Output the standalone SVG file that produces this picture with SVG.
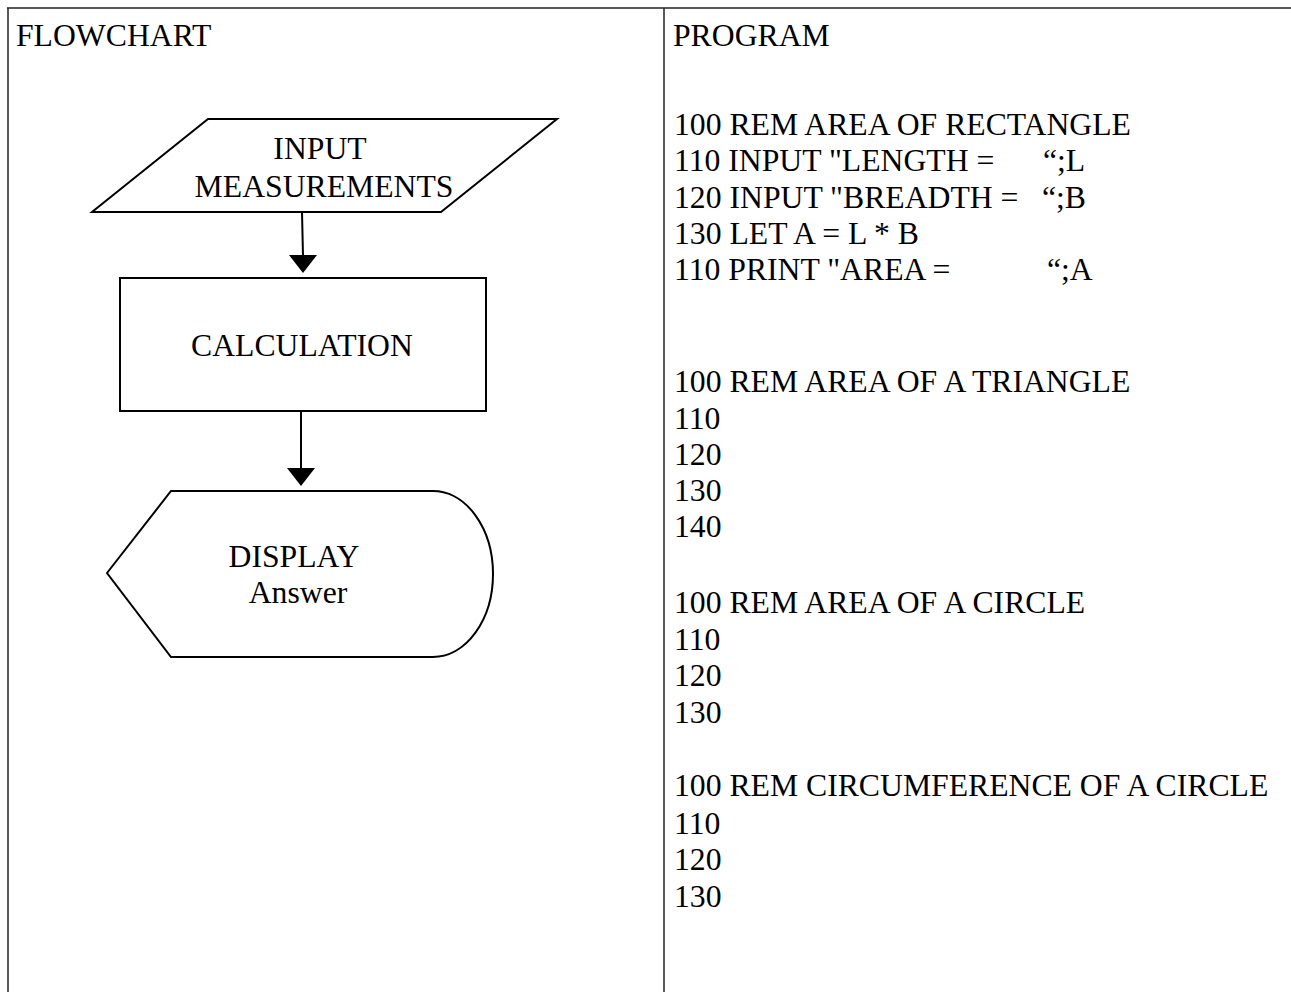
<svg xmlns="http://www.w3.org/2000/svg" width="1291" height="992" viewBox="0 0 1291 992">
<defs>
<style>
text{font-family:"Liberation Serif","Times New Roman",serif;font-size:31.7px;fill:#000;white-space:pre}
.c{text-anchor:middle}
.shape{fill:#fff;stroke:#000;stroke-width:2}
.grid{stroke:#222;stroke-width:1.5;fill:none}
.conn{stroke:#000;stroke-width:2;fill:none}
.head{fill:#000}
</style>
</defs>
<rect width="1291" height="992" fill="#fff"/>
<g id="table">
<line class="grid" x1="7" y1="8" x2="1291" y2="8"/>
<line class="grid" x1="8" y1="8" x2="8" y2="992"/>
<line class="grid" x1="664" y1="8" x2="664" y2="992"/>
<text x="16" y="46">FLOWCHART</text>
<text x="673" y="46">PROGRAM</text>
</g>
<g id="input">
<polygon class="shape" points="208,119 557,119 441,212 92,212"/>
<text class="c" x="320" y="159">INPUT</text>
<text class="c" x="324" y="197">MEASUREMENTS</text>
</g>
<g id="calc">
<rect class="shape" x="120" y="278" width="366" height="133"/>
<text class="c" x="302" y="356">CALCULATION</text>
</g>
<g id="display">
<path class="shape" d="M107,573 L171,491 L433,491 A60,83 0 0 1 433,657 L171,657 Z"/>
<text class="c" x="294" y="567">DISPLAY</text>
<text class="c" x="298" y="603">Answer</text>
</g>
<g id="connectors">
<line class="conn" x1="302" y1="212" x2="303" y2="256"/>
<path class="head" d="M289,255 L317,255 L303,273 Z"/>
<line class="conn" x1="301" y1="411" x2="301" y2="469"/>
<path class="head" d="M287,468 L315,468 L301,486 Z"/>
</g>
<g id="program">
<text x="674" y="135">100 REM AREA OF RECTANGLE</text>
<text x="674" y="171">110 INPUT "LENGTH =<tspan x="1043">“;L</tspan></text>
<text x="674" y="207.5">120 INPUT "BREADTH =<tspan x="1042">“;B</tspan></text>
<text x="674" y="244">130 LET A = L * B</text>
<text x="674" y="280">110 PRINT "AREA =<tspan x="1047">“;A</tspan></text>
<text x="674" y="392">100 REM AREA OF A TRIANGLE</text>
<text x="674" y="428.5">110</text>
<text x="674" y="464.5">120</text>
<text x="674" y="501">130</text>
<text x="674" y="537">140</text>
<text x="674" y="613">100 REM AREA OF A CIRCLE</text>
<text x="674" y="649.5">110</text>
<text x="674" y="686">120</text>
<text x="674" y="722.5">130</text>
<text x="674" y="796">100 REM CIRCUMFERENCE OF A CIRCLE</text>
<text x="674" y="833.5">110</text>
<text x="674" y="870">120</text>
<text x="674" y="906.5">130</text>
</g>
</svg>
